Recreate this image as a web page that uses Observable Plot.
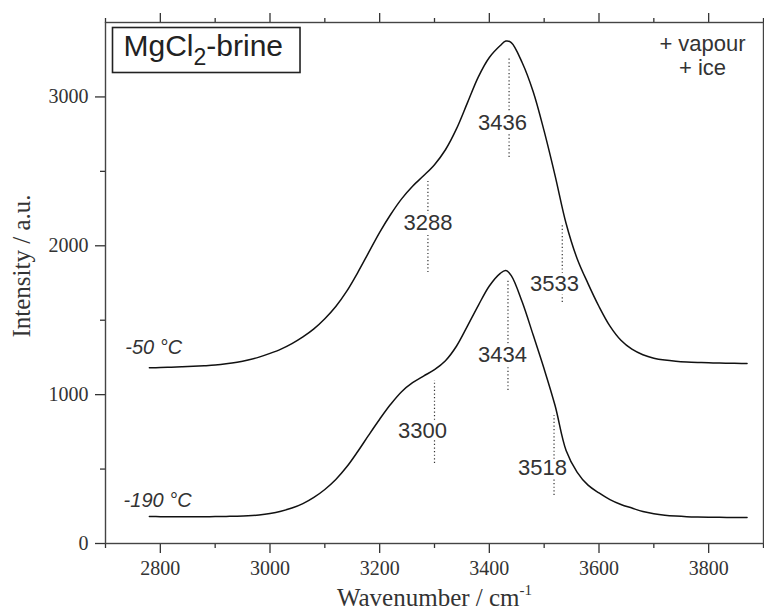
<!DOCTYPE html>
<html>
<head>
<meta charset="utf-8">
<script src="https://cdn.jsdelivr.net/npm/d3@7"></script>
<script src="https://cdn.jsdelivr.net/npm/@observablehq/plot@0.6"></script>
<style>
  html, body { margin: 0; padding: 0; background: #fff; }
</style>
</head>
<body>
<div id="chart"></div>
<script>
// Raman OH-stretching band of MgCl2 brine at two temperatures
const wavenumber = [
  2780, 2800, 2820, 2840, 2860, 2880, 2900, 2920, 2940, 2960,
  2980, 3000, 3020, 3040, 3060, 3080, 3100, 3120, 3140, 3160,
  3180, 3200, 3220, 3240, 3260, 3280, 3300, 3320, 3340, 3360,
  3380, 3400, 3420, 3430, 3440, 3460, 3480, 3500, 3520, 3540,
  3560, 3580, 3600, 3620, 3640, 3660, 3680, 3700, 3720, 3740,
  3760, 3780, 3800, 3820, 3840, 3860, 3870
];
// -50 °C spectrum
const intensityWarm = [
  1180, 1182, 1184, 1187, 1190, 1194, 1199, 1207, 1218, 1233,
  1252, 1277, 1306, 1343, 1388, 1442, 1510, 1592, 1695, 1820,
  1955, 2090, 2210, 2315, 2400, 2470, 2545, 2645, 2785, 2960,
  3135, 3265, 3345, 3375, 3365, 3230, 3035, 2770, 2470, 2150,
  1915, 1746, 1592, 1460, 1365, 1305, 1268, 1245, 1232, 1224,
  1219, 1216, 1214, 1212, 1211, 1210, 1210
];
// -190 °C spectrum
const intensityCold = [
  182, 180, 179, 179, 179, 180, 181, 182, 183, 186,
  192, 202, 217, 238, 268, 310, 363, 430, 515, 618,
  728, 835, 935, 1020, 1080, 1125, 1168, 1228, 1325, 1460,
  1600, 1730, 1815, 1834, 1800, 1622, 1400, 1172, 925, 625,
  480, 392, 340, 295, 262, 238, 215, 200, 190, 184,
  180, 178, 177, 176, 175, 175, 175
];
const seriesLabels = ["-50 °C", "-190 °C"];

// band positions (cm-1) marked on each spectrum
const peaksWarm = [3288, 3436, 3533];
const peaksCold = [3300, 3434, 3518];

// axis ticks
const xTicks = [2800, 3000, 3200, 3400, 3600, 3800];
const xMinorTicks = [2700, 2900, 3100, 3300, 3500, 3700, 3900];
const yTicks = [0, 1000, 2000, 3000];
const yMinorTicks = [500, 1500, 2500];

// placement of the dotted band markers (intensity span) and their labels
const peakLayout = [
  {lo: 1820, hi: 2438, labelX: 3288, labelY: 2103},
  {lo: 2593, hi: 3265, labelX: 3424, labelY: 2781},
  {lo: 1619, hi: 2150, labelX: 3519, labelY: 1693},
  {lo: 537, hi: 1095, labelX: 3278, labelY: 712},
  {lo: 1028, hi: 1767, labelX: 3424, labelY: 1216},
  {lo: 322, hi: 860, labelX: 3497, labelY: 457}
];
// placement of the temperature labels
const seriesLabelLayout = [
  {x: 2736, y: 1276},
  {x: 2733, y: 242}
];

const spectra = [
  ...wavenumber.map((w, i) => ({w, v: intensityWarm[i], series: seriesLabels[0]})),
  ...wavenumber.map((w, i) => ({w, v: intensityCold[i], series: seriesLabels[1]}))
];
const peakMarks = [...peaksWarm, ...peaksCold].map((peak, i) => ({peak, ...peakLayout[i]}));
const tempLabels = seriesLabels.map((text, i) => ({text, ...seriesLabelLayout[i]}));

const sans = "'Liberation Sans', Arial, Helvetica, sans-serif";
const serif = "'Liberation Serif', 'Times New Roman', serif";
const ink = "#333";

const xTitle = "Wavenumber / cm-1";
const sampleTitle = "MgCl2-brine";

const svg = Plot.plot({
  width: 764,
  height: 612,
  marginLeft: 105,
  marginRight: 1,
  marginTop: 22,
  marginBottom: 69,
  x: {domain: [2700, 3900], label: null},
  y: {domain: [0, 3500], label: null},
  style: {fontFamily: serif, fontSize: "20px", color: ink, background: "#fff"},
  marks: [
    // bottom axis
    Plot.axisX(xMinorTicks, {anchor: "bottom", tickSize: 5, strokeWidth: 1.3, tickFormat: () => "", label: null}),
    Plot.axisX(xTicks, {anchor: "bottom", tickSize: 10, tickPadding: 7, strokeWidth: 1.3, tickFormat: d => String(d), label: null}),
    // top axis (ticks only)
    Plot.axisX(xMinorTicks, {anchor: "top", tickSize: 5, strokeWidth: 1.3, tickFormat: () => "", label: null}),
    Plot.axisX(xTicks, {anchor: "top", tickSize: 10, strokeWidth: 1.3, tickFormat: () => "", label: null}),
    // left axis
    Plot.axisY(yMinorTicks, {anchor: "left", tickSize: 5, strokeWidth: 1.3, tickFormat: () => "", label: null}),
    Plot.axisY(yTicks, {anchor: "left", tickSize: 10, tickPadding: 7, strokeWidth: 1.3, tickFormat: d => String(d), label: null}),
    Plot.frame({stroke: "#444", strokeWidth: 1.4}),

    // axis titles
    Plot.text([xTitle], {
      frameAnchor: "bottom", dy: 62, lineAnchor: "bottom",
      fontFamily: serif, fontSize: 25, fill: ink
    }),
    Plot.text(["Intensity / a.u."], {
      frameAnchor: "left", dx: -84, dy: -17, rotate: -90,
      textAnchor: "middle", lineAnchor: "middle",
      fontFamily: serif, fontSize: 25, fill: ink
    }),

    // dotted band markers with their wavenumber labels
    Plot.ruleX(peakMarks, {
      x: "peak", y1: "lo", y2: "hi",
      stroke: "#333", strokeWidth: 1.2, strokeDasharray: "1.2,2.4"
    }),
    Plot.text(peakMarks, {
      x: "labelX", y: "labelY", text: d => String(d.peak), lineAnchor: "bottom",
      fontFamily: sans, fontSize: 22, fill: ink,
      stroke: "#fff", strokeWidth: 7, paintOrder: "stroke"
    }),

    // spectra
    Plot.line(spectra, {
      x: "w", y: "v", z: "series",
      stroke: "#111", strokeWidth: 1.5, curve: "catmull-rom"
    }),

    // temperature labels
    Plot.text(tempLabels, {
      x: "x", y: "y", text: "text", textAnchor: "start", lineAnchor: "bottom",
      fontFamily: sans, fontSize: 20, fontStyle: "italic", fill: ink
    }),

    // sample name and phases present
    Plot.text([sampleTitle], {
      frameAnchor: "top-left", dx: 18, dy: 33, lineAnchor: "bottom", textAnchor: "start",
      fontFamily: sans, fontSize: 30, fill: "#222"
    }),
    Plot.text(["+ vapour\n+ ice"], {
      frameAnchor: "top-right", dx: -61, dy: 52, lineAnchor: "bottom", lineHeight: 1.05,
      textAnchor: "middle", fontFamily: sans, fontSize: 22, fill: ink
    })
  ]
});

document.getElementById("chart").append(svg);

// rewrite a text element with sub/superscript parts
function setRichText(content, parts) {
  const t = d3.select(svg).selectAll("text").filter(function () {
    return this.textContent === content;
  });
  t.text(null);
  for (const p of parts) {
    const s = t.append("tspan").text(p.text);
    if (p.size) s.attr("font-size", p.size);
    if (p.dy) s.attr("dy", p.dy);
  }
  return t.node();
}

setRichText(xTitle, [
  {text: "Wavenumber / cm"},
  {text: "-1", size: 15, dy: -11}
]);
const titleNode = setRichText(sampleTitle, [
  {text: "MgCl"},
  {text: "2", size: 23, dy: 9},
  {text: "-brine", dy: -9}
]);

// framed box around the sample name
if (titleNode) {
  const bb = titleNode.getBBox();
  d3.select(titleNode.parentNode)
    .insert("rect", () => titleNode)
    .attr("transform", titleNode.getAttribute("transform"))
    .attr("x", bb.x - 11)
    .attr("y", bb.y - 1)
    .attr("width", bb.width + 28)
    .attr("height", bb.height + 4)
    .attr("fill", "#fff")
    .attr("stroke", "#222")
    .attr("stroke-width", 1.6);
}
</script>
</body>
</html>
